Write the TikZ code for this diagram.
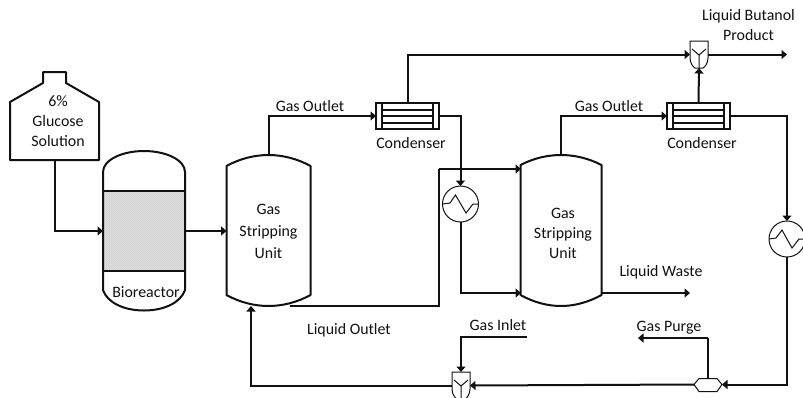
\documentclass[tikz,border=0pt]{standalone}
\usepackage{fontspec}
\setmainfont{Carlito}
\usetikzlibrary{arrows.meta}
\definecolor{ink}{HTML}{111111}
\tikzset{
  x=1pt,y=-1pt,
  every node/.style={font=\fontsize{15.9}{20}\selectfont,text=ink,inner sep=0pt,outer sep=0pt,align=center},
  ghost/.style={draw=none,rectangle,minimum width=#1},
  shell/.style={draw=ink,line width=2pt,line join=round},
  flow/.style={draw=ink,line width=2pt,line join=miter,-{Triangle[length=5.5pt,width=9pt]}},
  pipe/.style={draw=ink,line width=2pt,line join=miter},
  thin part/.style={draw=ink,line width=1pt},
  exch/.style={circle,draw=ink,line width=1pt,minimum size=36pt,fill=white},
  cond/.style={rectangle,draw=ink,line width=2pt,minimum width=63pt,minimum height=26pt},
  lab/.style={anchor=center}
}
\begin{document}
\begin{tikzpicture}
\useasboundingbox (0,0) rectangle (803,397);
\clip (0,0) rectangle (803,397);

% invisible named bodies
\node[ghost=89pt,minimum height=88pt] (tank) at (54.5,116) {};
\node[ghost=82pt,minimum height=159pt] (bio) at (144,230.5) {};
\node[ghost=85pt,minimum height=151pt] (gsua) at (268.5,230.5) {};
\node[ghost=81pt,minimum height=151pt] (gsub) at (561,230.5) {};
\node[cond] (conda) at (407.5,116) {};
\node[cond] (condb) at (698.5,116) {};
\node[exch] (hxa) at (460.5,204) {};
\node[exch] (hxb) at (787,239) {};
\node[ghost=18pt,minimum height=27pt] (mixa) at (699,54.5) {};
\node[ghost=18pt,minimum height=27pt] (mixb) at (461,385.5) {};
\node[ghost=28pt,minimum height=14pt] (split) at (708,384.5) {};

% named free ends
\coordinate (prod) at (787,54.5);
\coordinate (waste) at (690,293);
\coordinate (gasin) at (527,337);
\coordinate (purge) at (638,338);
\coordinate (gainT) at (521,169);
\coordinate (gainB) at (521,293);
\coordinate (gaoutL) at (290,306);
\coordinate (gaoutR) at (602,293);
\coordinate (gain1) at (251,306);

% tank
\draw[shell] (43,83) -- (43,72) -- (66,72) -- (66,83) -- (99,102) -- (99,160) -- (10,160) -- (10,102) -- cycle;
% bioreactor packing
\fill[black!11] (103,191) rectangle (185,270);
\begin{scope}
\clip (103,191) rectangle (185,270);
\foreach \k in {0,2,...,160}{
  \draw[black!22,line width=0.35pt] (103+\k-80,191) -- ++(80,80);
}
\end{scope}
\draw[shell] (103,172) .. controls (103,160) and (122,151) .. (144,151) .. controls (166,151) and (185,160) .. (185,172) -- (185,290) .. controls (181,302) and (165,310.5) .. (144,310.5) .. controls (123,310.5) and (107,302) .. (103,290) -- cycle;
\draw[shell] (103,191) -- (185,191) (103,270.5) -- (185,270.5);
% stripping units
\draw[shell] (226.5,166) .. controls (240,158.5) and (255,155) .. (268.5,155) .. controls (282,155) and (297,158.5) .. (310.5,166) -- (310.5,295) .. controls (297,302.5) and (282,306) .. (268.5,306) .. controls (255,306) and (240,302.5) .. (226.5,295) -- cycle;
\draw[shell] (520.5,165) .. controls (534,158) and (548,155) .. (561,155) .. controls (574,155) and (588,158) .. (601.5,165) -- (601.5,295) .. controls (588,302.5) and (574,306) .. (561,306) .. controls (548,306) and (534,302.5) .. (520.5,295) -- cycle;
% condenser internals
\foreach \c/\x in {conda/376,condb/667}{
  \draw[shell] (\x+6,103) -- (\x+6,129) (\x+57,103) -- (\x+57,129);
  \draw[shell] (\x+6,110) -- (\x+57,110) (\x+6,116) -- (\x+57,116) (\x+6,122.5) -- (\x+57,122.5);
}
% exchangers zigzag
\draw[thin part] (442.5,204) -- (450,203) -- (455.5,195) -- (466,213) -- (473,204) -- (478.5,204);
\draw[thin part] (769,239) -- (776,238) -- (782,230) -- (792,248) -- (799,239) -- (805,239);
% mixers
\foreach \x/\y in {690/41,452/372}{
  \draw[thin part] (\x,\y) -- (\x+18,\y) -- (\x+18,\y+17) .. controls (\x+18,\y+22) and (\x+15,\y+26) .. (\x+13,\y+27) -- (\x+5,\y+27) .. controls (\x+3,\y+26) and (\x,\y+22) .. (\x,\y+17) -- cycle;
  \draw[thin part] (\x+2,\y+8) -- (\x+9,\y+14) -- (\x+16,\y+8) (\x+9,\y+14) -- (\x+9,\y+27);
}
% splitter
\draw[thin part] (694,384.5) -- (699,378.5) -- (717,378.5) -- (722,384.5) -- (717,391.5) -- (699,391.5) -- cycle;

% connectors
\draw[flow] (tank.south) |- (103,231);
\draw[flow] (185,231) -- (226.5,231);
\draw[flow] (gsua.north) |- (conda.west);
\draw[flow] (conda.north) |- (mixa.west);
\draw[flow] (mixa.east) -- (prod);
\draw[flow] (conda.east) -| (hxa.north);
\draw[pipe] (gaoutL) -| (439,169);
\draw[flow] (439,169) -- (gainT);
\draw[flow] (hxa.south) |- (gainB);
\draw[flow] (gsub.north) |- (condb.west);
\draw[flow] (condb.north) -- (mixa.south);
\draw[flow] (condb.east) -| (hxb.north);
\draw[flow] (gaoutR) -- (waste);
\draw[flow] (hxb.south) |- (split.east);
\draw[pipe] (split.north) -- (708,338);
\draw[flow] (708,338) -- (purge);
\draw[flow] (split.west) -- (mixb.east);
\draw[flow] (gasin) -| (mixb.north);
\draw[flow] (mixb.west) -| (gain1);

% labels
\node[lab] (l1) at (58,121) {6\%\\Glucose\\Solution};
\node[lab] (l2) at (146,292) {Bioreactor};
\node[lab] (l0) at (268.5,231) {Gas\\[2pt]Stripping\\[2pt]Unit};
\node[lab] (l3) at (563,233.5) {Gas\\Stripping\\Unit};
\node[lab] (l4) at (310,106) {Gas Outlet};
\node[lab] (l5) at (609,106) {Gas Outlet};
\node[lab] (l6) at (411,143) {Condenser};
\node[lab] (l7) at (702,143) {Condenser};
\node[lab] (l8) at (349,330) {Liquid Outlet};
\node[lab] (l9) at (661,272) {Liquid Waste};
\node[lab] (l10) at (498,325) {Gas Inlet};
\node[lab] (l11) at (669,328) {Gas Purge};
\node[lab] (l12) at (748.5,25.5) {Liquid Butanol\\Product};
\end{tikzpicture}
\end{document}
